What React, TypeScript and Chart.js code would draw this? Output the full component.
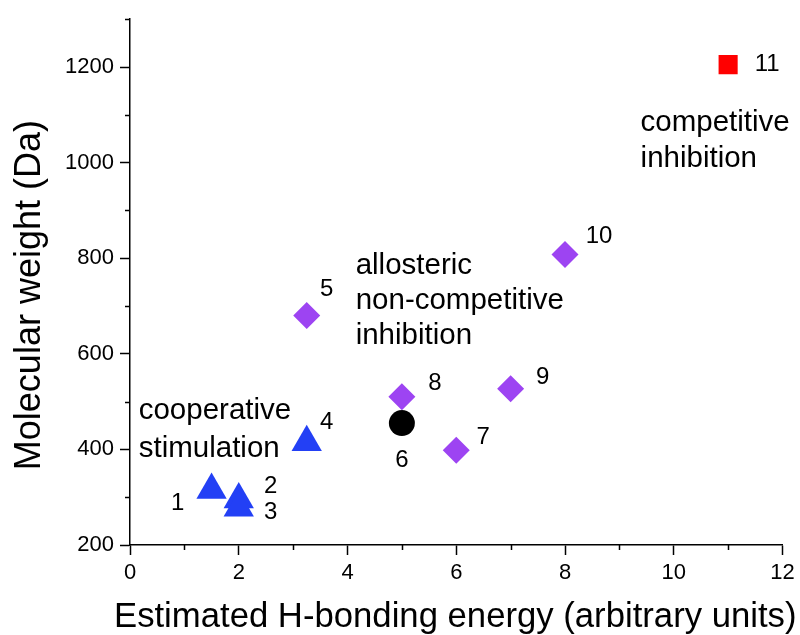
import { useEffect, useRef } from 'react';
import { Chart, registerables } from 'chart.js';

Chart.register(...registerables);

// ---------- data ----------
const compoundIds = ['1', '2', '3', '4', '5', '6', '7', '8', '9', '10', '11'];
const hBondingEnergy = [1.5, 2, 2, 3.25, 3.25, 5, 6, 5, 7, 8, 11];
const molecularWeight = [315, 295, 278, 415, 680, 455, 398, 510, 527, 808, 1205];
const effectGroup = ['stim', 'stim', 'stim', 'stim', 'allo', 'ref', 'allo', 'allo', 'allo', 'allo', 'comp'];

const groupKeys = ['stim', 'allo', 'ref', 'comp'];
const groupNames = ['cooperative stimulation', 'allosteric non-competitive inhibition', 'reference', 'competitive inhibition'];

const xTicks = [0, 2, 4, 6, 8, 10, 12];
const yTicks = [200, 400, 600, 800, 1000, 1200];
const xMinorTicks = [1, 3, 5, 7, 9, 11];
const yMinorTicks = [300, 500, 700, 900, 1100, 1300];

const annotationTexts = [
  ['cooperative', 'stimulation'],
  ['allosteric', 'non-competitive', 'inhibition'],
  ['competitive', 'inhibition'],
];
const annotationX = [0.16, 4.15, 9.39];
const annotationY = [464, 766, 1067];

const xTitle = 'Estimated H-bonding energy (arbitrary units)';
const yTitle = 'Molecular weight (Da)';

// ---------- styles ----------
const FONT = "'Liberation Sans', Arial, Helvetica, sans-serif";
const groupStyle: Record<string, { pointStyle: string; color: string; radius: number }> = {
  stim: { pointStyle: 'triangle', color: '#2340F5', radius: 17.5 },
  allo: { pointStyle: 'rectRot', color: '#9D44F2', radius: 13.5 },
  ref: { pointStyle: 'circle', color: '#000000', radius: 13 },
  comp: { pointStyle: 'rect', color: '#FF0000', radius: 13.5 },
};
const labelOffsets = [
  [-34, 13], [32, -13], [32, 5], [20, -20], [20, -26], [0, 37],
  [27, -13], [33, -13], [32, -11], [34, -18], [39, 0],
];
const annotationLineHeights = [38, 35, 36];

const overlayPlugin = {
  id: 'overlay',
  afterDraw(chart: any) {
    const { ctx, scales, chartArea } = chart;
    const xs = scales.x;
    const ys = scales.y;
    ctx.save();
    // minor ticks
    ctx.strokeStyle = '#000';
    ctx.lineWidth = 1.5;
    ctx.beginPath();
    xMinorTicks.forEach((v) => {
      const px = Math.round(xs.getPixelForValue(v)) + 0.5;
      ctx.moveTo(px, chartArea.bottom);
      ctx.lineTo(px, chartArea.bottom + 5);
    });
    yMinorTicks.forEach((v) => {
      const py = Math.round(ys.getPixelForValue(v)) + 0.5;
      ctx.moveTo(chartArea.left - 5, py);
      ctx.lineTo(chartArea.left, py);
    });
    ctx.stroke();

    // point labels
    ctx.fillStyle = '#000';
    ctx.font = `24px ${FONT}`;
    ctx.textAlign = 'center';
    ctx.textBaseline = 'middle';
    compoundIds.forEach((id, i) => {
      const px = xs.getPixelForValue(hBondingEnergy[i]);
      const py = ys.getPixelForValue(molecularWeight[i]);
      ctx.fillText(id, px + labelOffsets[i][0], py + labelOffsets[i][1]);
    });

    // annotations
    ctx.font = `29.5px ${FONT}`;
    ctx.textAlign = 'left';
    ctx.textBaseline = 'alphabetic';
    annotationTexts.forEach((lines, k) => {
      const px = xs.getPixelForValue(annotationX[k]);
      const py = ys.getPixelForValue(annotationY[k]);
      lines.forEach((line, j) => {
        ctx.fillText(line, px, py + j * annotationLineHeights[k]);
      });
    });

    // x-axis title
    ctx.font = `34.7px ${FONT}`;
    ctx.textAlign = 'center';
    ctx.textBaseline = 'alphabetic';
    ctx.fillText(xTitle, (chartArea.left + chartArea.right) / 2 - 1, chartArea.bottom + 82);

    // y-axis title
    ctx.font = `36px ${FONT}`;
    ctx.textAlign = 'center';
    ctx.textBaseline = 'middle';
    ctx.translate(30, (chartArea.top + chartArea.bottom) / 2 + 13);
    ctx.rotate(-Math.PI / 2);
    ctx.fillText(yTitle, 0, 0);
    ctx.restore();
  },
};

export default function App() {
  const canvasRef = useRef<HTMLCanvasElement | null>(null);

  useEffect(() => {
    if (!canvasRef.current) return;
    const datasets = groupKeys.map((key, g) => {
      const st = groupStyle[key];
      const data = hBondingEnergy
        .map((x, i) => ({ x, y: molecularWeight[i], group: effectGroup[i] }))
        .filter((p) => p.group === key);
      return {
        label: groupNames[g],
        data,
        pointStyle: st.pointStyle,
        pointRadius: st.radius,
        pointBackgroundColor: st.color,
        pointBorderColor: st.color,
        pointBorderWidth: 0,
        showLine: false,
      };
    });

    const chart = new Chart(canvasRef.current, {
      type: 'scatter',
      data: { datasets } as any,
      options: {
        animation: false,
        responsive: false,
        events: [],
        layout: { padding: { top: 16, right: 16, left: 0, bottom: 0 } },
        plugins: { legend: { display: false }, tooltip: { enabled: false } },
        scales: {
          x: {
            type: 'linear',
            min: 0,
            max: 12,
            afterBuildTicks: (scale: any) => {
              scale.ticks = xTicks.map((v) => ({ value: v }));
            },
            afterFit: (scale: any) => {
              scale.height = 90;
            },
            grid: {
              display: true,
              drawOnChartArea: false,
              drawTicks: true,
              tickLength: 10,
              tickColor: '#000',
              tickWidth: 1.5,
            },
            border: { display: true, color: '#000', width: 1.5 },
            ticks: {
              color: '#000',
              font: { family: FONT, size: 22 },
              padding: 5,
              maxRotation: 0,
              callback: (v: any) => String(v),
            },
            title: { display: false },
          },
          y: {
            type: 'linear',
            min: 200,
            max: 1300,
            afterBuildTicks: (scale: any) => {
              scale.ticks = yTicks.map((v) => ({ value: v }));
            },
            afterFit: (scale: any) => {
              scale.width = 130;
            },
            grid: {
              display: true,
              drawOnChartArea: false,
              drawTicks: true,
              tickLength: 10,
              tickColor: '#000',
              tickWidth: 1.5,
            },
            border: { display: true, color: '#000', width: 1.5 },
            ticks: {
              color: '#000',
              font: { family: FONT, size: 22 },
              padding: 6,
              callback: (v: any) => String(v),
            },
            title: { display: false },
          },
        },
      } as any,
      plugins: [overlayPlugin],
    });
    return () => chart.destroy();
  }, []);

  return (
    <div style={{ position: 'fixed', left: 0, top: 0, width: 800, height: 635, background: '#fff' }}>
      <canvas ref={canvasRef} width={800} height={635} style={{ display: 'block' }} />
    </div>
  );
}
